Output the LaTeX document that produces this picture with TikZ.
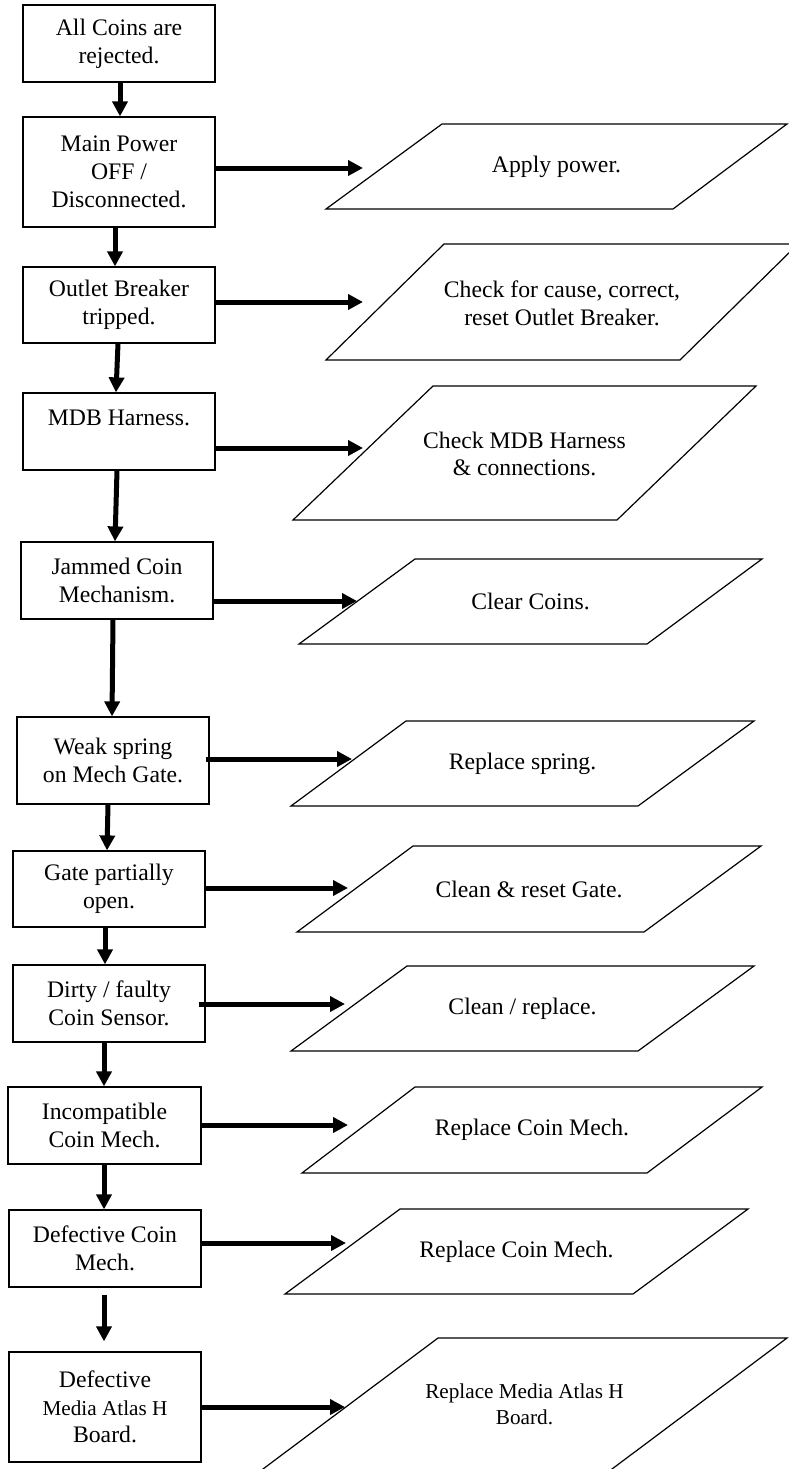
\documentclass[tikz,border=0pt]{standalone}
\usepackage{fontspec}
\setmainfont{Liberation Serif}
\usetikzlibrary{arrows.meta}
\newcommand\mainsize{\fontsize{23.7}{27.7}\selectfont}
\newcommand\smallersize{\fontsize{21.2}{26}\selectfont}
\begin{document}
\begin{tikzpicture}[x=1pt,y=-1pt,
  box/.style={draw, line width=1.2pt, rectangle, inner sep=0pt, align=center,
              font=\mainsize, minimum width=192pt},
  arr/.style={line width=5pt, -{Triangle[length=15pt,width=15pt]}},
  outline/.style={draw, line width=1.2pt, line join=miter},
  ptext/.style={align=center, font=\mainsize, inner sep=0pt}]
\useasboundingbox (0,0) rectangle (788,1469);

% ---- cause boxes (left column) ----
\node[box, minimum height=77pt]  (b1)  at (119,43.5)   {All Coins are\\rejected.};
\node[box, minimum height=110pt] (b2)  at (119,172)    {Main Power\\OFF /\\Disconnected.};
\node[box, minimum height=76pt]  (b3)  at (119,305)    {Outlet Breaker\\tripped.};
\node[box, minimum height=77pt]  (b4)  at (119,431.5)  {MDB Harness.\\~};
\node[box, minimum height=77pt]  (b5)  at (117,580.5)  {Jammed Coin\\Mechanism.};
\node[box, minimum height=87pt]  (b6)  at (113,760.5)  {Weak spring\\on Mech Gate.};
\node[box, minimum height=76pt]  (b7)  at (109,889)    {Gate partially\\open.};
\node[box, minimum height=77pt]  (b8)  at (109,1003.5) {Dirty / faulty\\Coin Sensor.};
\node[box, minimum height=77pt, minimum width=193pt] (b9) at (104.5,1125.5) {Incompatible\\Coin Mech.};
\node[box, minimum height=77pt]  (b10) at (105,1248.5)  {Defective Coin\\Mech.};
\node[box, minimum height=110pt] (b11) at (105,1407)    {Defective\\{\smallersize Media Atlas H}\\Board.};

% ---- remedy parallelograms (right column) ----
\draw[outline] (326,209)  -- (673,209)  -- (787,124)  -- (442,124)  -- cycle;
\node[ptext] (p1) at (556.5,166.5) {Apply power.};
\draw[outline] (326,360)  -- (680,360)  -- (798,244)  -- (444,244)  -- cycle;
\node[ptext] (p2) at (562,303) {Check for cause, correct,\\reset Outlet Breaker.};
\draw[outline] (293,520)  -- (617,520)  -- (756,386)  -- (433,386)  -- cycle;
\node[ptext] (p3) at (524.5,454) {Check MDB Harness\\\& connections.};
\draw[outline] (299,644)  -- (647,644)  -- (762,559)  -- (415,559)  -- cycle;
\node[ptext] (p4) at (530.5,601.5) {Clear Coins.};
\draw[outline] (291,806)  -- (638,806)  -- (754,721)  -- (406,721)  -- cycle;
\node[ptext] (p5) at (522.5,763.5) {Replace spring.};
\draw[outline] (297,932)  -- (644,932)  -- (761,846)  -- (413,846)  -- cycle;
\node[ptext] (p6) at (529,889) {Clean \& reset Gate.};
\draw[outline] (291,1051) -- (638,1051) -- (754,966)  -- (407,966)  -- cycle;
\node[ptext] (p7) at (522.5,1008.5) {Clean / replace.};
\draw[outline] (302,1173) -- (647,1173) -- (762,1087) -- (415,1087) -- cycle;
\node[ptext] (p8) at (532,1130) {Replace Coin Mech.};
\draw[outline] (285,1294) -- (633,1294) -- (748,1209) -- (400,1209) -- cycle;
\node[ptext] (p9) at (516.5,1251.5) {Replace Coin Mech.};
\draw[outline] (259,1472) -- (608,1472) -- (787,1338) -- (438,1338) -- cycle;
\node[ptext, font=\smallersize] (p10) at (524.5,1404) {Replace Media Atlas H\\Board.};

% ---- downward flow ----
\draw[arr] ([xshift=1pt]b1.south)  -- ([xshift=1pt]b2.north);
\draw[arr] ([xshift=-4pt]b2.south) -- ([xshift=-4pt]b3.north);
\draw[arr] ([xshift=-1pt]b3.south) -- ([xshift=-3pt]b4.north);
\draw[arr] ([xshift=-2pt]b4.south) -- ([xshift=-2pt]b5.north);
\draw[arr] ([xshift=-4pt]b5.south) -- ([xshift=-1pt]b6.north);
\draw[arr] ([xshift=-5pt]b6.south) -- ([xshift=-2pt]b7.north);
\draw[arr] ([xshift=-4pt]b7.south) -- ([xshift=-4pt]b8.north);
\draw[arr] ([xshift=-5pt]b8.south) -- ([xshift=-0.5pt]b9.north);
\draw[arr] ([xshift=-0.5pt]b9.south) -- ([xshift=-1pt]b10.north);
\draw[arr, shorten <=7pt, shorten >=10pt] ([xshift=-1pt]b10.south) -- ([xshift=-1pt]b11.north);

% ---- arrow ends towards the remedies ----
\coordinate (t1)  at (363,168);
\coordinate (t2)  at (363,302);
\coordinate (t3)  at (363,448);
\coordinate (t4)  at (357,601);
\coordinate (t5)  at (352,759);
\coordinate (t6)  at (348,888);
\coordinate (t7)  at (345,1004);
\coordinate (t8)  at (348,1125);
\coordinate (t9)  at (346,1243);
\coordinate (t10) at (345,1407);

\draw[arr] (b2.east |- t1)  -- (t1);
\draw[arr] (b3.east |- t2)  -- (t2);
\draw[arr] (b4.east |- t3)  -- (t3);
\draw[arr] (b5.east |- t4)  -- (t4);
\draw[arr, shorten <=-4pt] (b6.east |- t5) -- (t5);
\draw[arr] (b7.east |- t6)  -- (t6);
\draw[arr, shorten <=-7pt] (b8.east |- t7) -- (t7);
\draw[arr] (b9.east |- t8)  -- (t8);
\draw[arr] (b10.east |- t9) -- (t9);
\draw[arr] (b11.east |- t10) -- (t10);
\end{tikzpicture}
\end{document}
